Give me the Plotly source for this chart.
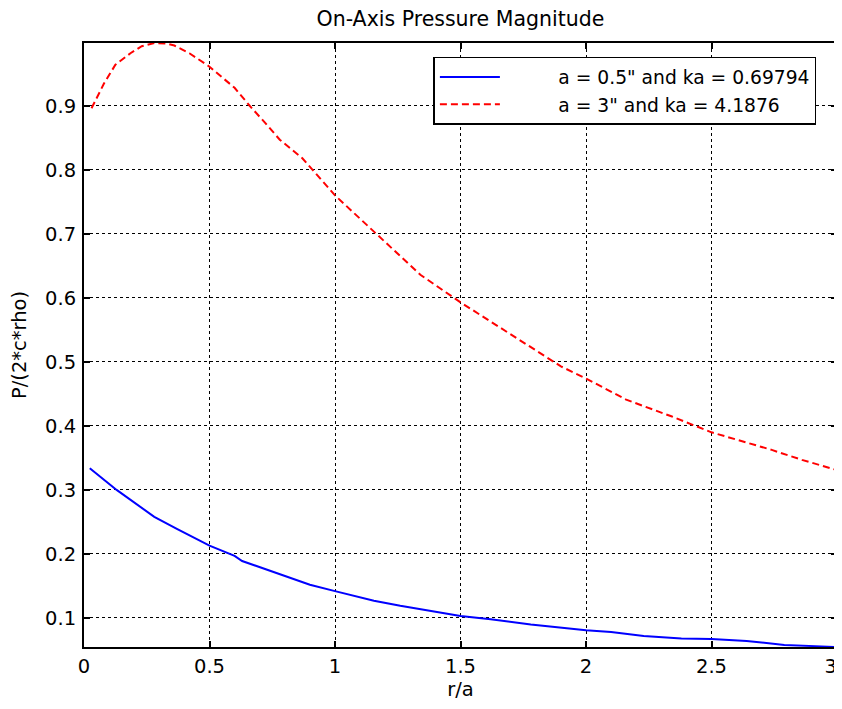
import plotly.graph_objects as go

# Data
red_x = [0.03, 0.08, 0.125, 0.185, 0.23, 0.28, 0.33, 0.36, 0.42, 0.5, 0.6, 0.66, 0.72, 0.78,
         0.87, 0.91, 1.0, 1.17, 1.34, 1.5, 1.71, 1.9, 2.0, 2.16, 2.34, 2.5, 2.74, 2.86, 3.0]
red_y = [0.896, 0.935, 0.964, 0.982, 0.993, 0.998, 0.997, 0.994, 0.982, 0.961, 0.928, 0.9, 0.874, 0.847,
         0.818, 0.8, 0.76, 0.698, 0.636, 0.593, 0.540, 0.493, 0.474, 0.441, 0.415, 0.390, 0.3625, 0.347, 0.331]

blue_x = [0.023, 0.13, 0.28, 0.37, 0.5, 0.6, 0.63, 0.78, 0.9, 1.0, 1.155, 1.26, 1.42, 1.5, 1.62,
          1.78, 2.0, 2.1, 2.23, 2.38, 2.5, 2.64, 2.79, 2.92, 3.0]
blue_y = [0.334, 0.30, 0.258, 0.239, 0.213, 0.197, 0.189, 0.169, 0.152, 0.142, 0.127, 0.119, 0.108, 0.103, 0.098,
          0.090, 0.081, 0.078, 0.072, 0.068, 0.067, 0.064, 0.058, 0.0563, 0.0547]

x_ticks = [0, 0.5, 1, 1.5, 2, 2.5, 3]
x_tick_labels = ["0", "0.5", "1", "1.5", "2", "2.5", "3\u00a0\u00a0"]
y_ticks = [0.1, 0.2, 0.3, 0.4, 0.5, 0.6, 0.7, 0.8, 0.9]
y_tick_labels = ["0.1", "0.2", "0.3", "0.4", "0.5", "0.6", "0.7", "0.8", "0.9"]

name_blue = 'a = 0.5" and ka = 0.69794'
name_red = 'a = 3" and ka = 4.1876'
PAD = "\u00a0" * 9  # visual gap between legend line sample and text

FONT = "DejaVu Sans"
FS = 19.5

fig = go.Figure()
fig.add_trace(go.Scatter(x=blue_x, y=blue_y, mode="lines", name=PAD + name_blue,
                         line=dict(color="rgb(0,0,255)", width=2)))
fig.add_trace(go.Scatter(x=red_x, y=red_y, mode="lines", name=PAD + name_red,
                         line=dict(color="rgb(255,0,0)", width=2, dash="7px,4px")))

axis_common = dict(
    showline=True, linecolor="black", linewidth=2, mirror="ticks",
    ticks="inside", ticklen=6, tickwidth=1.5, tickcolor="black",
    showgrid=True, gridcolor="black", gridwidth=1, griddash="dot",
    zeroline=False, automargin=False, ticklabeloverflow="allow",
    tickfont=dict(family=FONT, size=FS, color="black"),
)

fig.update_xaxes(range=[0, 3], tickvals=x_ticks, ticktext=x_tick_labels,
                 title=dict(text="r/a", font=dict(family=FONT, size=FS, color="black"), standoff=4),
                 ticklabelstandoff=1, **axis_common)
fig.update_yaxes(range=[0.0547, 0.998], tickvals=y_ticks, ticktext=y_tick_labels,
                 title=dict(text="P/(2*c*rho)", font=dict(family=FONT, size=FS, color="black"), standoff=16),
                 ticklabelstandoff=2, **axis_common)

# The page body adds an 8px margin, so the figure is sized to fit inside it.
fig.update_layout(
    width=834, height=693,
    margin=dict(l=75.5, r=5, t=35, b=54, autoexpand=False),
    paper_bgcolor="white", plot_bgcolor="white",
    font=dict(family=FONT, size=FS, color="black"),
    title=dict(text="On-Axis Pressure Magnitude", x=0.5425, xanchor="center",
               y=0.985, yanchor="middle", font=dict(family=FONT, size=20.5, color="black")),
    legend=dict(x=0.464, y=0.977, xanchor="left", yanchor="top",
                bgcolor="white", bordercolor="black", borderwidth=1.5,
                font=dict(family=FONT, size=18.7, color="black"),
                itemwidth=60, tracegroupgap=0),
    showlegend=True,
)

fig.write_html("out.html")
